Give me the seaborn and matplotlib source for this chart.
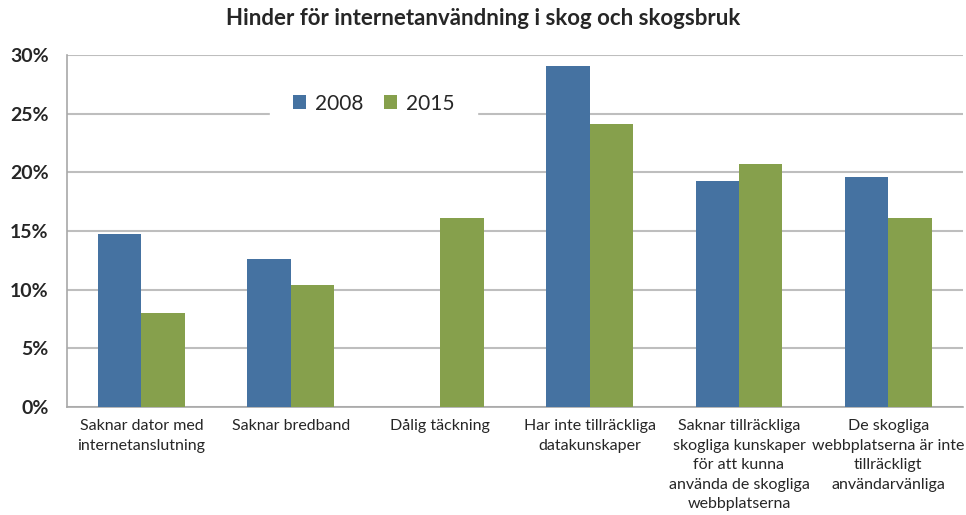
import numpy as np
import pandas as pd
import matplotlib
matplotlib.use("Agg")
import matplotlib.pyplot as plt
from matplotlib.ticker import FixedLocator, PercentFormatter
import seaborn as sns

# ─── Data ─────────────────────────────────────────────────────────────────────
categories = [
    "Saknar dator med\ninternetanslutning",
    "Saknar bredband",
    "Dålig täckning",
    "Har inte tillräckliga\ndatakunskaper",
    "Saknar tillräckliga\nskogliga kunskaper\nför att kunna\nanvända de skogliga\nwebbplatserna",
    "De skogliga\nwebbplatserna är inte\ntillräckligt\nanvändarvänliga",
]
years = ["2008", "2015"]
values_2008 = [14.7, 12.6, np.nan, 29.1, 19.3, 19.6]
values_2015 = [8.0, 10.4, 16.1, 24.1, 20.7, 16.1]
colors = {"2008": "#4572A1", "2015": "#86A04C"}

df = pd.DataFrame({
    "kategori": categories * 2,
    "år": [years[0]] * len(categories) + [years[1]] * len(categories),
    "andel": values_2008 + values_2015,
})

# ─── Plot ─────────────────────────────────────────────────────────────────────
sns.set_style("white")
plt.rcParams["font.family"] = ["Lato", "DejaVu Sans"]

fig = plt.figure(figsize=(9.66, 5.15), dpi=100)
ax = fig.add_axes([0.069, 0.21, 0.928, 0.683])

sns.barplot(data=df, x="kategori", y="andel", hue="år", order=categories,
            hue_order=years, palette=colors, width=0.58, gap=0,
            saturation=1, linewidth=0, ax=ax, zorder=3)

ax.set_ylim(0, 30)
ax.set_xlim(-0.5, len(categories) - 0.5)
ax.yaxis.set_major_locator(FixedLocator([0, 5, 10, 15, 20, 25, 30]))
ax.yaxis.set_major_formatter(PercentFormatter(decimals=0))
ax.grid(axis="y", color="#BEBEBE", linewidth=1.5, zorder=0)
ax.set_axisbelow(True)

for side in ["top", "right"]:
    ax.spines[side].set_visible(False)
for side in ["left", "bottom"]:
    ax.spines[side].set_color("#A8A8A8")
    ax.spines[side].set_linewidth(1.2)

ax.set_xlabel("")
ax.set_ylabel("")
ax.tick_params(axis="y", labelsize=14, length=5, color="#A8A8A8", width=1.2, pad=8)
for lbl in ax.get_yticklabels():
    lbl.set_fontweight("bold")
ax.tick_params(axis="x", which="major", length=0, labelsize=11.5, pad=9)
ax.set_xticks(np.arange(-0.5, len(categories)), minor=True)
ax.tick_params(axis="x", which="minor", length=5, color="#A8A8A8", width=1.2)
for lbl in ax.get_xticklabels():
    lbl.set_linespacing(1.5)

fig.suptitle("Hinder för internetanvändning i skog och skogsbruk",
             x=0.5, y=0.985, fontsize=16, fontweight="bold")

leg = ax.legend(loc="upper left", bbox_to_anchor=(0.215, 0.985), ncol=2,
                frameon=True, fontsize=15, handlelength=0.65, handleheight=0.65,
                handletextpad=0.4, columnspacing=1.0, borderpad=1.1)
leg.get_frame().set_facecolor("white")
leg.get_frame().set_edgecolor("white")
leg.get_frame().set_alpha(1)

fig.savefig("out.png", dpi=100)
